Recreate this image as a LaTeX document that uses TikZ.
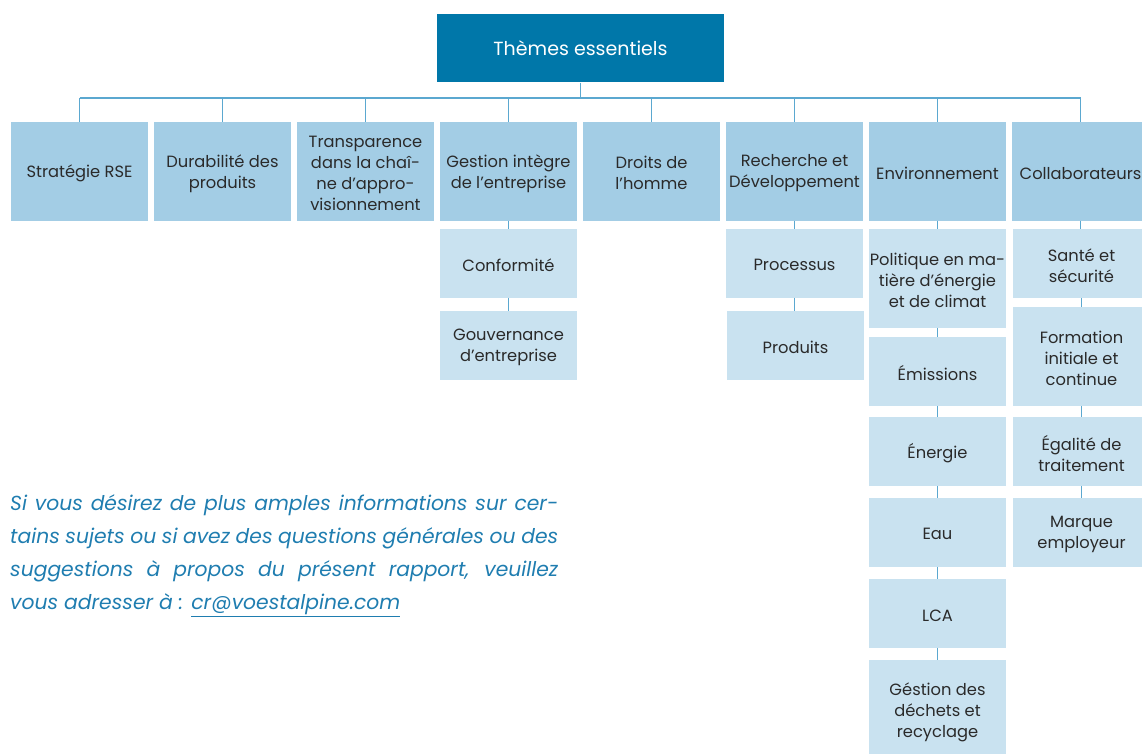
\documentclass[tikz,border=0pt]{standalone}
\usepackage{fontspec}
\setmainfont{Poppins}
\definecolor{dtop}{HTML}{0077A9}
\definecolor{lone}{HTML}{A3CDE5}
\definecolor{ltwo}{HTML}{C9E2F0}
\definecolor{conn}{HTML}{5BA8D0}
\definecolor{txt}{HTML}{2A2A2A}
\definecolor{itc}{HTML}{1F7DB0}
\begin{document}
\begin{tikzpicture}[x=1pt,y=-1pt,
  box/.style={draw=none, inner sep=0pt, minimum width=137pt, anchor=center},
  txtl/.style={inner sep=0pt, align=center, text=txt,
    font=\fontsize{16.3}{21}\selectfont, yshift=-2pt},
  t/.style={label={[txtl]center:#1}},
  topbox/.style={fill=dtop, text=white, minimum width=287pt, minimum height=68pt,
    inner sep=0pt, font=\fontsize{19}{23}\selectfont},
  lone/.style={box, fill=lone, minimum height=98.5pt},
  sub/.style={box, fill=ltwo, minimum height=68.7pt},
  subtall/.style={box, fill=ltwo, minimum height=98.7pt},
  link/.style={draw=conn, line width=1.6pt}]
\useasboundingbox (0,0) rectangle (1142,754);
\clip (0,0) rectangle (1142,754);

\node[topbox] (top) at (580.5,48.5) {Thèmes essentiels};

\node[lone, t={Stratégie RSE}] (b1) at (79.5,171.25) {};
\node[lone, t={Durabilité des\\produits}] (b2) at (222.5,171.25) {};
\node[lone, t={Transparence\\dans la chaî-\\ne d’appro-\\visionnement}] (b3) at (365.5,171.25) {};
\node[lone, t={Gestion intègre\\de l’entreprise}] (b4) at (508.5,171.25) {};
\node[lone, t={Droits de\\l’homme}] (b5) at (651.5,171.25) {};
\node[lone, t={Recherche et\\Développement}] (b6) at (794.5,171.25) {};
\node[lone, t={Environnement}] (b7) at (937.5,171.25) {};
\node[lone, t={Collaborateurs}] (b8) at (1080.5,171.25) {};

\node[sub, t={Conformité}] (conf) at (508.5,263.3) {};
\node[sub, t={Gouvernance\\d’entreprise}] (gouv) at (508.5,345.3) {};

\node[sub, t={Processus}] (proc) at (794.5,263.3) {};
\node[sub, t={Produits}] (prod) at (795.5,345.3) {};

\node[subtall, t={Politique en ma-\\tière d’énergie\\et de climat}] (pol) at (937.5,278.3) {};
\node[sub, t={Émissions}] (emi) at (937.5,371.3) {};
\node[sub, t={Énergie}] (ener) at (937.5,451.3) {};
\node[sub, t={Eau}] (eau) at (937.5,532.3) {};
\node[sub, t={LCA}] (lca) at (937.5,613.3) {};
\node[box, fill=ltwo, minimum height=100pt, t={Géstion des\\déchets et\\recyclage}] (dech) at (937.5,710) {};

\node[sub, t={Santé et\\sécurité}] (sante) at (1081.5,263.3) {};
\node[subtall, t={Formation\\initiale et\\continue}] (form) at (1081.5,356.3) {};
\node[sub, t={Égalité de\\traitement}] (egal) at (1081.5,451.3) {};
\node[sub, t={Marque\\employeur}] (marq) at (1081.5,532.3) {};

\coordinate (bus) at (580.5,98);
\draw[link] (top.south) -- (top.south |- bus);
\draw[link] (b1.north |- bus) -- (b8.north |- bus);
\foreach \n in {b1,b2,b3,b4,b5,b6,b7,b8}
  \draw[link] (\n.north) -- (\n.north |- bus);

\draw[link] (b4.south) -- (conf.north);
\draw[link] (conf.south) -- (gouv.north);
\draw[link] (b6.south) -- (proc.north);
\draw[link] (proc.south) -- (proc.south |- prod.north);
\draw[link] (b7.south) -- (pol.north);
\draw[link] (pol.south) -- (emi.north);
\draw[link] (emi.south) -- (ener.north);
\draw[link] (ener.south) -- (eau.north);
\draw[link] (eau.south) -- (lca.north);
\draw[link] (lca.south) -- (dech.north);
\draw[link] (b8.south) -- (b8.south |- sante.north);
\draw[link] (sante.south) -- (form.north);
\draw[link] (form.south) -- (egal.north);
\draw[link] (egal.south) -- (marq.north);

\node[anchor=north west, inner sep=0pt, text width=548pt, align=justify, text=itc,
  font=\fontsize{20.3}{33}\selectfont\itshape] (info) at (10,494.5)
  {Si vous désirez de plus amples informations sur cer-\linebreak
   tains sujets ou si avez des questions générales ou des\linebreak
   suggestions à propos du présent rapport, veuillez\linebreak
   vous adresser à : \underline{cr@voestalpine.com}};
\end{tikzpicture}
\end{document}
